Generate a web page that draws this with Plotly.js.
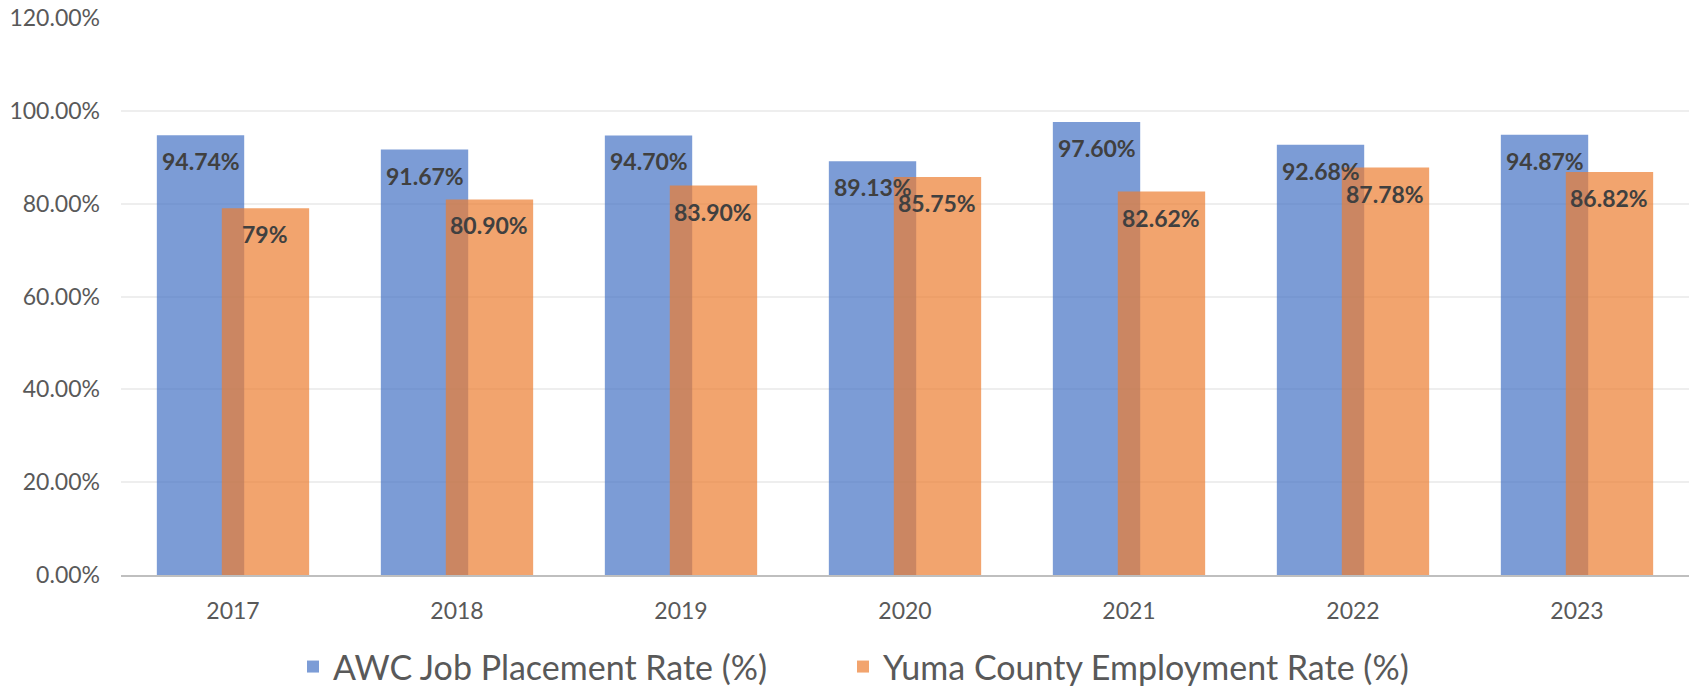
<!DOCTYPE html>
<html>
<head>
<meta charset="utf-8">
<script src="https://cdn.plot.ly/plotly-3.0.1.min.js"></script>
<style>html,body{margin:0;padding:0;background:#fff;}#chart{width:1692px;height:689px;}</style>
</head>
<body>
<div id="chart"></div>
<script>
const years = ['2017', '2018', '2019', '2020', '2021', '2022', '2023'];
const awcRate = [94.74, 91.67, 94.70, 89.13, 97.60, 92.68, 94.87];
const yumaRate = [79, 80.90, 83.90, 85.75, 82.62, 87.78, 86.82];
const awcLabels = ['94.74%', '91.67%', '94.70%', '89.13%', '97.60%', '92.68%', '94.87%'];
const yumaLabels = ['79%', '80.90%', '83.90%', '85.75%', '82.62%', '87.78%', '86.82%'];
const seriesNames = ['AWC Job Placement Rate (%)', 'Yuma County Employment Rate (%)'];

const FONT = 'Lato, "Open Sans", sans-serif';
const BAR_W = 0.39;
const AWC_OFF = -0.34;
const YUMA_OFF = -0.05;

const traces = [
  {
    type: 'bar', name: seriesNames[0], x: years, y: awcRate,
    width: BAR_W, offset: AWC_OFF,
    marker: {color: 'rgba(68,114,196,0.7)', line: {width: 0}},
    hoverinfo: 'x+y', legend: 'legend'
  },
  {
    type: 'bar', name: seriesNames[1], x: years, y: yumaRate,
    width: BAR_W, offset: YUMA_OFF,
    marker: {color: 'rgba(237,125,49,0.7)', line: {width: 0}},
    hoverinfo: 'x+y', legend: 'legend2'
  }
];

const annotations = [];
years.forEach((yr, i) => {
  annotations.push({
    xref: 'x', yref: 'y', x: i + AWC_OFF + BAR_W / 2, y: awcRate[i],
    text: awcLabels[i], showarrow: false, yanchor: 'middle', yshift: -26,
    font: {family: FONT, size: 23, color: '#404040', weight: 'bold'}
  });
  annotations.push({
    xref: 'x', yref: 'y', x: i + YUMA_OFF + BAR_W / 2, y: yumaRate[i],
    text: yumaLabels[i], showarrow: false, yanchor: 'middle', yshift: -26,
    font: {family: FONT, size: 23, color: '#404040', weight: 'bold'}
  });
});

const legendCommon = {
  orientation: 'h', xref: 'container', yref: 'container',
  xanchor: 'left', y: 0.032, yanchor: 'middle',
  font: {family: FONT, size: 34, color: '#595959'},
  itemwidth: 30
};

const layout = {
  width: 1692, height: 689,
  margin: {l: 121, r: 3, t: 18, b: 114, autoexpand: false},
  paper_bgcolor: '#ffffff', plot_bgcolor: '#ffffff',
  barmode: 'overlay',
  font: {family: FONT, color: '#595959'},
  xaxis: {
    type: 'category', showgrid: false, zeroline: false,
    showline: true, linecolor: '#BFBFBF', linewidth: 2,
    ticks: '', ticklabelstandoff: 14,
    tickfont: {family: FONT, size: 23, color: '#595959'}
  },
  yaxis: {
    range: [0, 120], dtick: 20, tickformat: '.2f', ticksuffix: '%',
    showgrid: true, gridcolor: '#EEEEEE', gridwidth: 2,
    zeroline: false, showline: false, ticks: '', ticklabelstandoff: 20,
    tickfont: {family: FONT, size: 23, color: '#595959'}
  },
  showlegend: true,
  legend: Object.assign({}, legendCommon, {x: 293 / 1692}),
  legend2: Object.assign({}, legendCommon, {x: 843 / 1692}),
  annotations: annotations
};

Plotly.newPlot('chart', traces, layout, {displayModeBar: false, staticPlot: true});
</script>
</body>
</html>
